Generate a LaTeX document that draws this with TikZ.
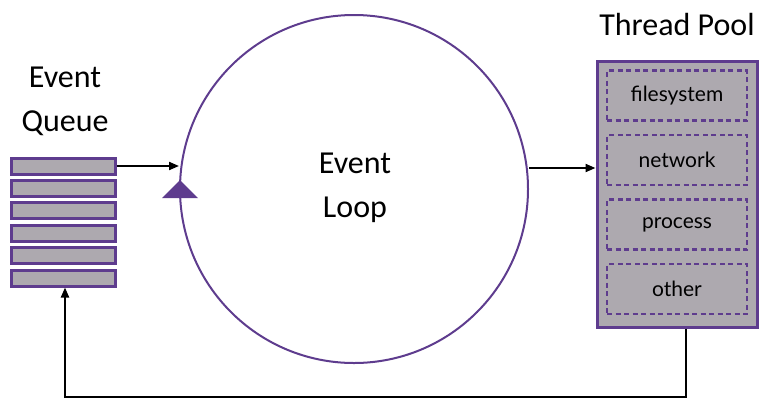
\documentclass[tikz,border=0pt]{standalone}
\usepackage{fontspec}
\setmainfont{Carlito}
\newfontfamily\taskfont{Lato}
\usetikzlibrary{arrows.meta}
\definecolor{pur}{HTML}{5E3C8E}
\definecolor{cgray}{HTML}{ADA9AF}
\tikzset{
  bar/.style={draw=pur,line width=3pt,fill=cgray,minimum width=104pt,minimum height=16pt,inner sep=0pt},
  pool/.style={draw=pur,line width=3pt,fill=cgray,minimum width=160pt,minimum height=266pt,inner sep=0pt},
  task/.style={draw=pur,line width=2.6pt,dash pattern=on 5pt off 3.5pt,minimum width=140pt,minimum height=50pt,inner sep=0pt,font=\taskfont\fontsize{21}{24}\selectfont},
  title/.style={font=\fontsize{32}{44}\selectfont,align=center},
  arr/.style={-{Triangle[length=10pt,width=8pt]},line width=2pt,black},
}
\begin{document}
\begin{tikzpicture}[x=1pt,y=-1pt]
\useasboundingbox (0,0) rectangle (765,400);
% queue
\foreach \i in {1,...,6}{
  \node[bar] (b\i) at (63,{166+(\i-1)*22.4}) {};
}
\node[title] (qt) at (65,101) {Event\\Queue};
% loop
\node[draw=pur,line width=2pt,circle,minimum size=348pt,inner sep=0pt] (loop) at (354,189) {};
\node[title] (lt) at (355,188) {Event\\Loop};
\fill[pur] (162,198) -- (180,180) -- (198,198) -- cycle;
% pool
\node[pool] (pool) at (677,194) {};
\node[title,anchor=base] (pt) at (677,35) {Thread Pool};
\node[task] (t1) at (677,95.5) {filesystem};
\node[task] (t2) at (677,160) {network};
\node[task] (t3) at (677,224.5) {process};
\node[task] (t4) at (677,289) {other};
% connectors
\draw[arr] (b1.east) -- (loop.west |- b1.east);
\draw[arr] (loop.east |- 0,168) -- (pool.west |- 0,168);
\coordinate (c1) at (686,397);
\coordinate (c2) at (65,397);
\draw[arr] (pool.south -| c1) -- (c1) -- (c2) -- (b6.south -| c2);
\end{tikzpicture}
\end{document}
